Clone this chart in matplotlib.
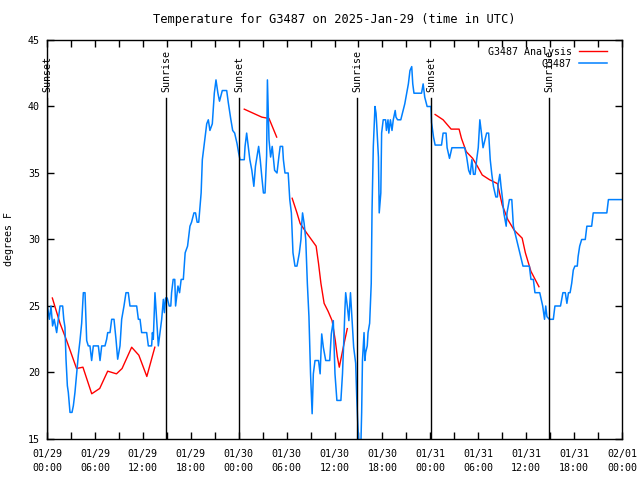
import numpy as np
import matplotlib
matplotlib.use("Agg")
import matplotlib.pyplot as plt

# hours since 2025-01-29 00:00 UTC
obs_hours = [0.04, 0.3, 0.5, 0.7, 0.9, 1.21, 1.42, 1.63, 1.96, 2.1, 2.25, 2.38, 2.55, 2.67, 2.88, 3.13,
             3.3, 3.5, 3.72, 3.92, 4.13, 4.34, 4.55, 4.76, 4.97, 5.17, 5.38, 5.59, 5.8, 6.22, 6.43, 6.64,
             6.85, 7.26, 7.47, 7.6, 7.89, 8.1, 8.39, 8.64, 8.85, 9.14, 9.35, 9.64, 9.89, 10.18, 10.39,
             11.23, 11.44, 11.65, 11.85, 12.48, 12.69, 13.1, 13.2, 13.31, 13.52, 13.73, 13.94, 14.15,
             14.36, 14.57, 14.7, 14.85, 15.05, 15.3, 15.5, 15.6, 15.8, 16.0, 16.1, 16.4, 16.6, 16.8,
             17.07, 17.3, 17.6, 17.9, 18.1, 18.4, 18.6, 18.8, 19.0, 19.16, 19.3, 19.45, 19.7, 20.0,
             20.2, 20.4, 20.7, 20.95, 21.16, 21.4, 21.6, 21.95, 22.5, 22.7, 23.0, 23.25, 23.5, 23.8,
             24.0, 24.17, 24.7, 24.8, 25.0, 25.2, 25.4, 25.65, 25.9, 26.1, 26.5, 26.7, 26.9, 27.1,
             27.3, 27.5, 27.6, 27.8, 28.0, 28.2, 28.5, 28.8, 29.05, 29.2, 29.5, 29.6, 29.8, 30.2,
             30.4, 30.6, 30.8, 31.05, 31.3, 31.6, 31.8, 31.9, 32.0, 32.2, 32.4, 32.6, 32.8, 33.0,
             33.2, 33.35, 33.56, 34.0, 34.2, 34.4, 34.6, 34.9, 35.4, 35.6, 35.85, 36.06, 36.3, 36.8,
             37.0, 37.2, 37.3, 37.4, 37.6, 37.8, 38.0, 38.2, 38.4, 38.65, 38.78, 38.9, 39.05, 39.3,
             39.4, 39.5, 39.7, 39.8, 39.9, 40.1, 40.2, 40.4, 40.6, 40.7, 40.86, 41.07, 41.2, 41.28,
             41.5, 41.6, 41.8, 41.9, 42.1, 42.4, 42.5, 42.7, 42.8, 43.0, 43.2, 43.36, 43.6, 43.7,
             43.9, 44.3, 44.6, 44.8, 45.04, 45.25, 45.45, 45.67, 45.8, 45.95, 46.9, 47.1, 47.3, 47.6,
             48.08, 48.15, 48.4, 48.6, 49.4, 49.6, 49.97, 50.1, 50.4, 50.7, 52.3, 52.55, 52.8, 53.0,
             53.2, 53.4, 53.6, 53.8, 54.0, 54.2, 54.4, 54.6, 54.8, 55.05, 55.3, 55.5, 55.7, 55.9,
             56.2, 56.4, 56.5, 56.7, 56.85, 57.05, 57.2, 57.5, 57.6, 57.9, 58.2, 58.4, 58.8, 59.2,
             59.6, 60.4, 60.6, 60.9, 61.1, 61.7, 62.07, 62.3, 62.45, 62.6, 62.9, 63.4, 63.6, 64.3,
             64.6, 64.9, 65.1, 65.3, 65.5, 65.7, 65.9, 66.1, 66.4, 66.5, 66.7, 66.95, 67.4, 67.6,
             68.2, 68.4, 70.1, 70.3, 72.0]
obs_temp = [25, 24, 25, 23.5, 24, 23, 24, 25, 25, 24, 23.4, 21, 19, 18.5, 17, 17,
            17.5, 18.5, 20, 21.3, 22.4, 23.7, 26, 26, 22.4, 22, 22, 20.9, 22, 22, 22, 20.9,
            22, 22, 22.5, 23, 23, 24, 24, 22.5, 21, 22, 24, 25, 26, 26, 25,
            25, 24, 24, 23, 23, 22, 22, 23, 22.5, 26, 24, 22, 23,
            24, 25.5, 24.5, 25.6, 25.6, 25, 25, 26, 27, 27, 25, 26.5, 26, 27,
            27, 29, 29.5, 31, 31.3, 32, 32, 31.3, 31.3, 32.5, 33.5, 36, 37.2, 38.7,
            39, 38.2, 38.7, 41, 42, 41, 40.4, 41.2, 41.2, 40.3, 39.1, 38.2, 38, 37.2,
            36.5, 36, 36, 37, 38, 37, 36, 35.2, 34, 35.5, 37, 36, 34.7, 33.5,
            33.5, 36.3, 42, 37.5, 36.2, 37, 35.2, 35, 36.3, 37, 37, 36, 35, 35,
            33, 32, 29, 28, 28, 29, 30, 31.2, 32, 31.2, 30, 26.7, 24.2, 19.9,
            16.9, 19.9, 20.9, 20.9, 19.9, 22.9, 21.9, 20.9, 20.9, 22.9, 23.9, 19.9, 17.9, 17.9,
            19.9, 22.9, 24.7, 26, 25, 23.9, 26, 23.9, 21.9, 20.7, 18.2, 16.4, 14.5, 14.5,
            17, 20.9, 23, 20.9, 21.5, 22, 23, 23.7, 26.7, 32.2, 37, 40, 39.5, 38.7,
            36.2, 32, 33.5, 38, 39, 39, 38.2, 39, 38, 39, 38.2, 39, 39.7, 39.2,
            39, 39, 39.7, 40.2, 41, 41.7, 42.7, 43, 41.7, 41, 41, 41.7, 40.7, 40,
            40, 38.8, 37.7, 37.1, 37.1, 38, 38, 36.9, 36.1, 36.9, 36.9, 36.2, 35.2, 34.9,
            36, 34.9, 34.9, 36, 36.9, 39, 38, 36.9, 37.4, 38, 38, 36, 34.9, 34,
            33.2, 33.2, 34.2, 34.9, 34, 33, 32, 31, 32, 33, 33, 31, 30, 29,
            28, 28, 27, 27, 26, 26, 25, 24, 25, 24.2, 24, 24, 25, 25,
            26, 26, 25.2, 26, 26, 26.7, 27.7, 28, 28, 28.7, 29.5, 30, 30, 31,
            31, 32, 32, 33, 33]

# analysis series, nan = gap
ana_hours = [0.67, 1.63, 2.46, 3.7, 4.5, 5.6, 6.6, 7.6, 8.7, 9.4, 10.6, 11.5, 12.5, 13.5, 14.0,
             24.7, 25.8, 26.9, 27.8, 28.76, 29.5,
             30.7, 31.3, 31.7, 32.5, 33.7, 34.0, 34.3, 34.7, 35.2, 35.7, 36.1, 36.35, 36.6, 37.1, 37.6, 40.0,
             48.6, 49.6, 50.6, 51.6, 51.9, 52.5, 53.3, 53.9, 54.5, 55.4, 56.4, 57.0, 57.7, 58.5,
             59.5, 59.9, 60.6, 61.6]
ana_temp = [25.6, 23.7, 22.4, 20.3, 20.4, 18.4, 18.8, 20.1, 19.9, 20.3, 21.9, 21.3, 19.7, 21.9, np.nan,
            39.8, 39.5, 39.2, 39.1, 37.7, np.nan,
            33.1, 32.0, 31.2, 30.5, 29.5, 28.2, 26.7, 25.2, 24.6, 23.9, 22.4, 21.2, 20.4, 21.9, 23.3, np.nan,
            39.4, 39.0, 38.3, 38.3, 37.6, 36.6, 36.1, 35.5, 34.85, 34.5, 34.2, 32.6, 31.5, 30.7,
            30.1, 29.0, 27.6, 26.45]

sun_hours = [0.05, 14.9, 24.04, 38.82, 48.08, 62.86]
sun_labels = ["Sunset", "Sunrise", "Sunset", "Sunrise", "Sunset", "Sunrise"]

tick_hours = list(range(0, 73, 3))
tick_text = ["01/29\n00:00", "01/29\n06:00", "01/29\n12:00", "01/29\n18:00",
             "01/30\n00:00", "01/30\n06:00", "01/30\n12:00", "01/30\n18:00",
             "01/31\n00:00", "01/31\n06:00", "01/31\n12:00", "01/31\n18:00", "02/01\n00:00"]

plt.rcParams['font.family'] = ['DejaVu Sans Mono']
plt.rcParams['font.size'] = 7.2

fig = plt.figure(figsize=(6.4, 4.8), dpi=100)
ax = fig.add_axes([47/640, 1-439/480, 575/640, 399/480])

ax.plot(ana_hours, ana_temp, color='#ff0000', lw=1, label='G3487 Analysis')
ax.plot(obs_hours, obs_temp, color='#0080ff', lw=1.1, label='G3487')

for h, lab in zip(sun_hours, sun_labels):
    ax.axvline(h, ymin=0, ymax=0.855, color='black', lw=1)
    ax.text(h, 0.87, lab, transform=ax.get_xaxis_transform(), rotation=90,
            ha='center', va='bottom')

ax.set_xlim(0, 72)
ax.set_ylim(15, 45)
ax.set_xticks(tick_hours)
ax.set_xticklabels([tick_text[i // 2] if i % 2 == 0 else "" for i in range(len(tick_hours))],
                   linespacing=1.5)
ax.set_yticks(range(15, 46, 5))
ax.tick_params(direction='in', top=True, right=True, length=5, width=1, pad=5)
ax.tick_params(axis='x', pad=7)
for s in ax.spines.values():
    s.set_linewidth(1)

ax.set_ylabel("degrees F", labelpad=10)
ax.set_title("Temperature for G3487 on 2025-Jan-29 (time in UTC)", pad=12)
ax.legend(loc='upper right', bbox_to_anchor=(1 - 11/575, 1 - 3/399), borderaxespad=0,
          frameon=False, markerfirst=False, handlelength=2.8,
          labelspacing=0.2, handletextpad=0.7)

fig.savefig("out.png", dpi=100)
